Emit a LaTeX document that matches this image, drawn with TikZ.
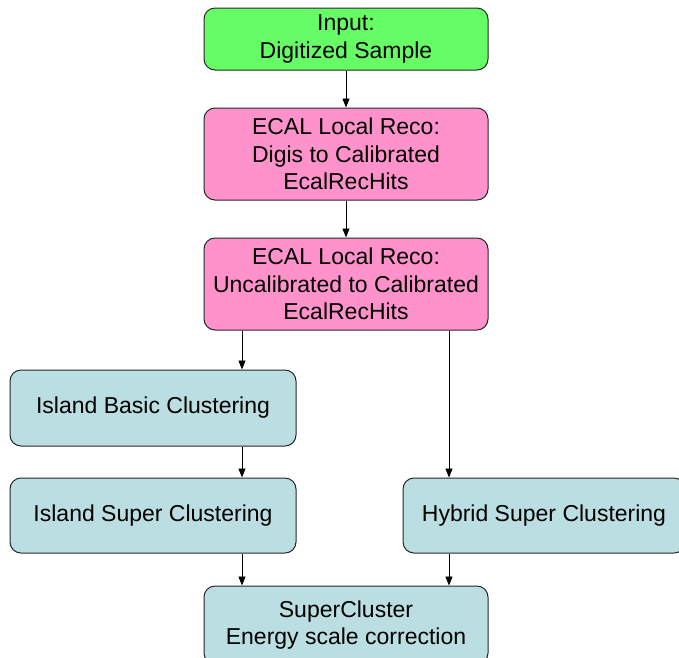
\documentclass[tikz,border=0pt]{standalone}
\usepackage{fontspec}
\setmainfont{Liberation Sans}
\usetikzlibrary{arrows.meta}
\definecolor{ingreen}{RGB}{102,252,102}
\definecolor{ecalpink}{RGB}{255,146,202}
\definecolor{clublue}{RGB}{186,222,225}
\tikzset{
  box/.style={draw=black!85, line width=1pt, rounded corners=11pt, align=center,
    inner sep=0pt, font=\fontsize{23}{27.5}\selectfont},
  arr/.style={draw=black, line width=0.9pt, -{Triangle[length=9pt,width=7pt]}},
}
\begin{document}
\begin{tikzpicture}[x=1pt,y=-1pt]
\useasboundingbox (0,0) rectangle (679,657);
\clip (0,0) rectangle (679,657);
\node[box, fill=ingreen, minimum width=284pt, minimum height=62pt] (in) at (346,39) {Input:\\Digitized Sample};
\node[box, fill=ecalpink, minimum width=284pt, minimum height=92pt] (e1) at (346,154) {ECAL Local Reco:\\Digis to Calibrated\\EcalRecHits};
\node[box, fill=ecalpink, minimum width=284pt, minimum height=92pt] (e2) at (346,284) {ECAL Local Reco:\\Uncalibrated to Calibrated\\EcalRecHits};
\node[box, fill=clublue, minimum width=286pt, minimum height=76pt] (ibc) at (153,408) {Island Basic Clustering};
\node[box, fill=clublue, minimum width=286pt, minimum height=75pt] (isc) at (153,515.5) {Island Super Clustering};
\node[box, fill=clublue, minimum width=282pt, minimum height=75pt] (hsc) at (544,515.5) {Hybrid Super Clustering};
\node[box, fill=clublue, minimum width=284pt, minimum height=78pt] (sc) at (346,625) {SuperCluster\\Energy scale correction};
\path (242,0) coordinate (lx) (449,0) coordinate (rx);
\draw[arr] (in) -- (e1);
\draw[arr] (e1) -- (e2);
\draw[arr] (e2.south -| lx) -- (ibc.north -| lx);
\draw[arr] (e2.south -| rx) -- (hsc.north -| rx);
\draw[arr] (ibc.south -| lx) -- (isc.north -| lx);
\draw[arr] (isc.south -| lx) -- (sc.north -| lx);
\draw[arr] (hsc.south -| rx) -- (sc.north -| rx);
\end{tikzpicture}
\end{document}
